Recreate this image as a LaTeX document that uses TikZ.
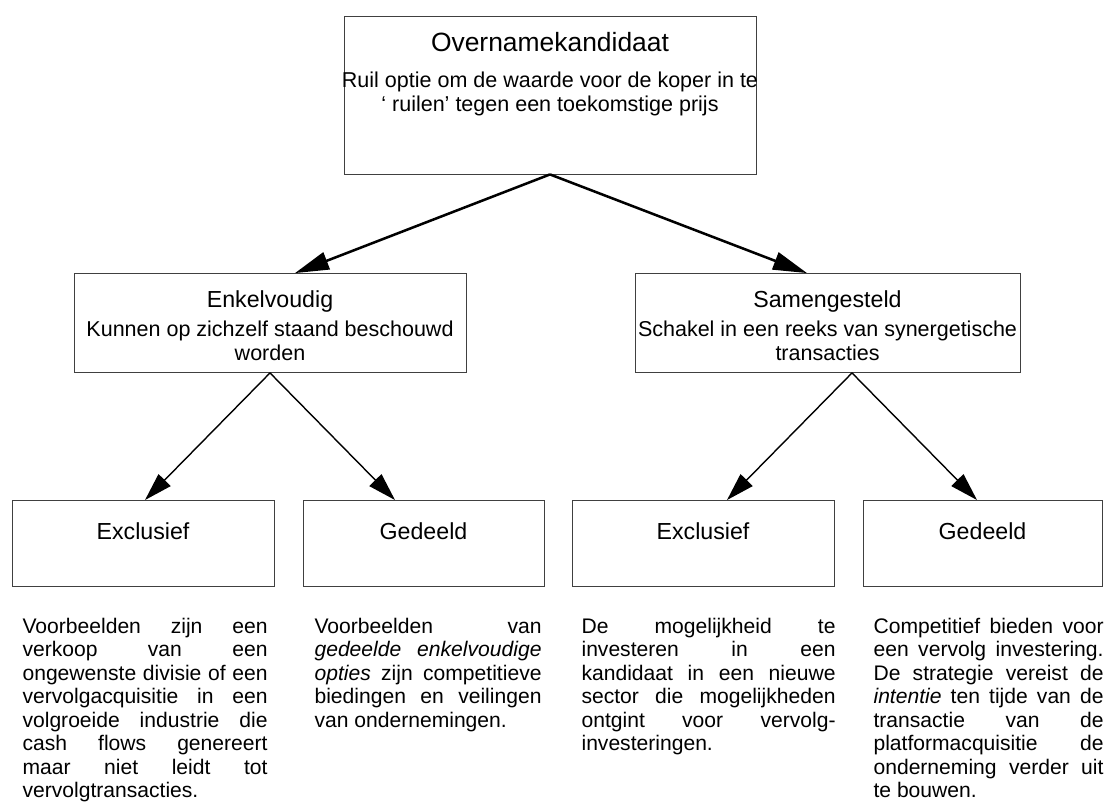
\documentclass[tikz,border=0pt]{standalone}
\usepackage{fontspec}
\setmainfont{Liberation Sans}
\usetikzlibrary{arrows.meta}

\newcommand{\titelfont}{\fontsize{18.8}{22}\selectfont}
\newcommand{\kopfont}{\fontsize{16.5}{19}\selectfont}
\newcommand{\subfont}{\fontsize{15.3}{17}\selectfont}
\newcommand{\tekstfont}{\fontsize{15}{16.75}\selectfont\tolerance=10000\hbadness=10000\hfuzz=5pt\hyphenpenalty=10000}

\begin{document}
\begin{tikzpicture}[thick,box/.style={rectangle,draw=black!75,line width=0.6pt,inner sep=0pt}]
\tikzstyle{hoofdpijl} = [draw,line width=1.8pt,-{Triangle[length=0.85cm,width=0.45cm]}]
\tikzstyle{pijl} = [draw,line width=1pt,-{Triangle[length=0.7cm,width=0.42cm]}]
\tikzstyle{uitleg} = [anchor=north west,inner sep=0pt,align=justify,font=\tekstfont]

\useasboundingbox (0,0) rectangle (27.775,-20.125);

% Overnamekandidaat
\node[box,minimum width=10.3cm,minimum height=3.95cm] (kandidaat) at (13.75,-2.375) {};
\node[anchor=base,font=\titelfont] (titel) at (13.75,-1.3) {Overnamekandidaat};
\node[anchor=north,font=\subfont,align=center,inner sep=0pt] (ruil) at (13.75,-1.78) {Ruil optie om de waarde voor de koper in te\\‘ ruilen’ tegen een toekomstige prijs};

% tweede rij
\node[box,minimum width=9.8cm,minimum height=2.475cm] (enkel) at (6.75,-8.075) {};
\node[anchor=base,font=\kopfont] (enkelkop) at (6.75,-7.675) {Enkelvoudig};
\node[anchor=north,font=\subfont,align=center,inner sep=0pt] (enkeltekst) at (6.75,-8.01) {Kunnen op zichzelf staand beschouwd\\worden};

\node[box,minimum width=9.625cm,minimum height=2.475cm] (samen) at (20.6875,-8.075) {};
\node[anchor=base,font=\kopfont] (samenkop) at (20.6875,-7.675) {Samengesteld};
\node[anchor=north,font=\subfont,align=center,inner sep=0pt] (samentekst) at (20.6875,-8.01) {Schakel in een reeks van synergetische\\transacties};

% onderste rij
\node[box,minimum width=6.55cm,minimum height=2.1375cm] (excla) at (3.575,-13.58) {};
\node[anchor=base,font=\kopfont] (exclakop) at (3.575,-13.49) {Exclusief};

\node[box,minimum width=6.025cm,minimum height=2.1375cm] (gedla) at (10.5875,-13.58) {};
\node[anchor=base,font=\kopfont] (gedlakop) at (10.5875,-13.49) {Gedeeld};

\node[box,minimum width=6.55cm,minimum height=2.1375cm] (exclb) at (17.575,-13.58) {};
\node[anchor=base,font=\kopfont] (exclbkop) at (17.575,-13.49) {Exclusief};

\node[box,minimum width=5.975cm,minimum height=2.1375cm] (gedlb) at (24.5625,-13.58) {};
\node[anchor=base,font=\kopfont] (gedlbkop) at (24.5625,-13.49) {Gedeeld};

% pijlen
\draw[hoofdpijl] (kandidaat.south) -- ([xshift=0.625cm]enkel.north);
\draw[hoofdpijl] (kandidaat.south) -- ([xshift=-0.5125cm]samen.north);

\draw[pijl] (enkel.south) -- ([xshift=0.05cm]excla.north);
\draw[pijl] (enkel.south) -- ([xshift=-0.7125cm]gedla.north);
\draw[pijl] ([xshift=0.6125cm]samen.south) -- ([xshift=0.6cm]exclb.north);
\draw[pijl] ([xshift=0.6125cm]samen.south) -- ([xshift=-0.1375cm]gedlb.north);

% toelichting
\node[uitleg,text width=6.125cm] (voorbeelda) at (0.55,-15.43) {Voorbeelden zijn een\linebreak verkoop van een\linebreak ongewenste divisie of een\linebreak vervolgacquisitie in een\linebreak volgroeide industrie die\linebreak cash flows genereert\linebreak maar niet leidt tot\linebreak vervolgtransacties.};
\node[uitleg,text width=5.675cm] (voorbeeldb) at (7.85,-15.43) {Voorbeelden van\linebreak \emph{gedeelde enkelvoudige}\linebreak \emph{opties} zijn competitieve\linebreak biedingen en veilingen\linebreak van ondernemingen.};
\node[uitleg,text width=6.35cm] (voorbeeldc) at (14.525,-15.43) {De mogelijkheid te\linebreak investeren in een\linebreak kandidaat in een nieuwe\linebreak sector die mogelijkheden\linebreak ontgint voor vervolg-\linebreak investeringen.};
\node[uitleg,text width=5.75cm] (voorbeeldd) at (21.825,-15.43) {Competitief bieden voor\linebreak een vervolg investering.\linebreak De strategie vereist de\linebreak \emph{intentie} ten tijde van de\linebreak transactie van de\linebreak platformacquisitie de\linebreak onderneming verder uit\linebreak te bouwen.};

\end{tikzpicture}
\end{document}
